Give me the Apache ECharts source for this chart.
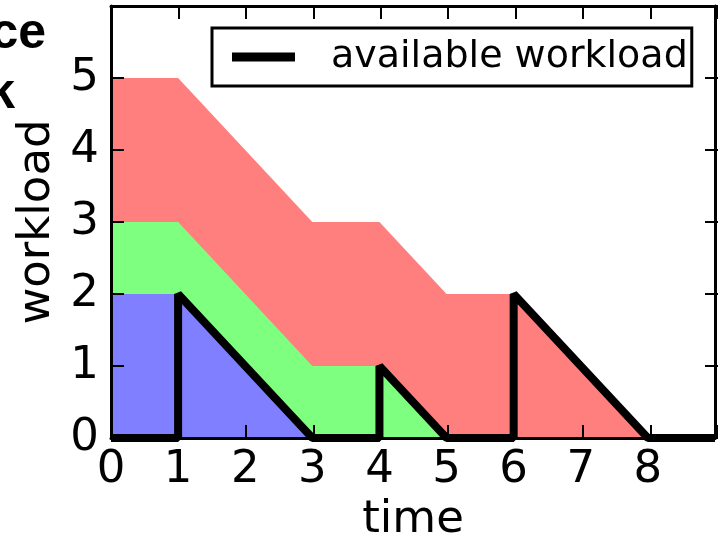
<!DOCTYPE html>
<html>
<head>
<meta charset="utf-8">
<script src="https://cdn.jsdelivr.net/npm/echarts@6/dist/echarts.min.js"></script>
<style>
  html, body { margin: 0; padding: 0; background: #fff; }
  #chart { width: 718px; height: 548px; }
</style>
</head>
<body>
<div id="chart"></div>
<script>
// ---- data ----
const xTicks = [0, 1, 2, 3, 4, 5, 6, 7, 8];
const yTicks = [0, 1, 2, 3, 4, 5];

const blueX = [0, 1, 3];
const blueY = [2, 2, 0];

const greenX = [0, 1, 3, 4, 5];
const greenY = [3, 3, 1, 1, 0];

const redX = [0, 1, 3, 4, 5, 6, 8];
const redY = [5, 5, 3, 3, 2, 2, 0];

const availX = [0, 1, 1, 3, 4, 4, 5, 6, 6, 8, 9];
const availY = [0, 0, 2, 0, 0, 1, 0, 0, 2, 0, 0];

const titleLines = ['ce', 'k'];
const legendName = 'available workload';

function pairs(xs, ys) { return xs.map((x, i) => [x, ys[i]]); }

const FONT = '"DejaVu Sans", sans-serif';
const chart = echarts.init(document.getElementById('chart'), null, { renderer: 'canvas' });

function tickStyle() { return { show: true, inside: true, length: 13, lineStyle: { color: '#000', width: 2 } }; }
function axisLineStyle() { return { show: true, onZero: false, lineStyle: { color: '#000', width: 3 } }; }
const gridBox = { left: 111, right: -4, top: 6, bottom: 110, containLabel: false };

const option = {
  backgroundColor: '#fff',
  animation: false,
  grid: [Object.assign({}, gridBox), Object.assign({}, gridBox)],
  xAxis: [
    {
      gridIndex: 0, type: 'value', min: 0, max: 9, interval: 1, position: 'bottom', z: 10,
      name: 'time', nameLocation: 'middle', nameGap: 59,
      nameTextStyle: { fontFamily: FONT, fontSize: 45, color: '#000' },
      axisLine: axisLineStyle(), axisTick: { show: false }, splitLine: { show: false },
      axisLabel: {
        margin: 10, fontFamily: FONT, fontSize: 45, color: '#000',
        formatter: v => (xTicks.indexOf(v) >= 0 ? String(v) : '')
      }
    },
    {
      gridIndex: 0, type: 'value', min: 0, max: 9, interval: 1, position: 'top', z: 10,
      axisLine: axisLineStyle(), axisTick: { show: false }, splitLine: { show: false },
      axisLabel: { show: false }
    },
    // tick-only axes on an identical overlay grid
    {
      gridIndex: 1, type: 'value', min: 0, max: 9, interval: 1, position: 'bottom', z: 11,
      axisLine: { show: false, onZero: false }, axisTick: tickStyle(), splitLine: { show: false },
      axisLabel: { show: false }
    },
    {
      gridIndex: 1, type: 'value', min: 0, max: 9, interval: 1, position: 'top', z: 11,
      axisLine: { show: false, onZero: false }, axisTick: tickStyle(), splitLine: { show: false },
      axisLabel: { show: false }
    }
  ],
  yAxis: [
    {
      gridIndex: 0, type: 'value', min: 0, max: 6, interval: 1, position: 'left', z: 10,
      name: 'workload', nameLocation: 'middle', nameGap: 50,
      nameTextStyle: { fontFamily: FONT, fontSize: 45, color: '#000' },
      axisLine: axisLineStyle(), axisTick: { show: false }, splitLine: { show: false },
      axisLabel: {
        margin: 12, fontFamily: FONT, fontSize: 45, color: '#000',
        formatter: v => (yTicks.indexOf(v) >= 0 ? String(v) : '')
      }
    },
    {
      gridIndex: 0, type: 'value', min: 0, max: 6, interval: 1, position: 'right', z: 10,
      axisLine: axisLineStyle(), axisTick: { show: false }, splitLine: { show: false },
      axisLabel: { show: false }
    },
    {
      gridIndex: 1, type: 'value', min: 0, max: 6, interval: 1, position: 'left', z: 11,
      axisLine: { show: false, onZero: false }, axisTick: tickStyle(), splitLine: { show: false },
      axisLabel: { show: false }
    },
    {
      gridIndex: 1, type: 'value', min: 0, max: 6, interval: 1, position: 'right', z: 11,
      axisLine: { show: false, onZero: false }, axisTick: tickStyle(), splitLine: { show: false },
      axisLabel: { show: false }
    }
  ],
  legend: {
    data: [{ name: legendName, itemStyle: { color: '#000' } }],
    left: 212, top: 28, z: 20,
    orient: 'horizontal',
    icon: 'rect', itemWidth: 63, itemHeight: 9,
    borderColor: '#000', borderWidth: 3, borderRadius: 0,
    backgroundColor: '#fff',
    padding: [10, 4, 10, 20],
    selectedMode: false,
    formatter: n => '{a|' + n + '}',
    textStyle: {
      fontFamily: FONT, fontSize: 38, color: '#000',
      rich: { a: { fontFamily: FONT, fontSize: 38, color: '#000', padding: [0, 0, 0, 31] } }
    }
  },
  graphic: [
    { type: 'text', x: 46, y: 34, style: { text: titleLines[0], font: 'bold 50px "Liberation Sans", Arial, sans-serif', fill: '#000', textAlign: 'right', textVerticalAlign: 'middle' } },
    { type: 'text', x: 15, y: 94, style: { text: titleLines[1], font: 'bold 50px "Liberation Sans", Arial, sans-serif', fill: '#000', textAlign: 'right', textVerticalAlign: 'middle' } }
  ],
  series: [
    {
      type: 'line', name: 'red', xAxisIndex: 0, yAxisIndex: 0, data: pairs(redX, redY), showSymbol: false, symbol: 'none',
      lineStyle: { width: 0 }, areaStyle: { color: '#ff7f7f', opacity: 1 }, z: 1, silent: true
    },
    {
      type: 'line', name: 'green', xAxisIndex: 0, yAxisIndex: 0, data: pairs(greenX, greenY), showSymbol: false, symbol: 'none',
      lineStyle: { width: 0 }, areaStyle: { color: '#7fff7f', opacity: 1 }, z: 2, silent: true
    },
    {
      type: 'line', name: 'blue', xAxisIndex: 0, yAxisIndex: 0, data: pairs(blueX, blueY), showSymbol: false, symbol: 'none',
      lineStyle: { width: 0 }, areaStyle: { color: '#7f7fff', opacity: 1 }, z: 3, silent: true
    },
    {
      type: 'line', name: legendName, xAxisIndex: 0, yAxisIndex: 0, data: pairs(availX, availY), showSymbol: false, symbol: 'none',
      color: '#000',
      lineStyle: { color: '#000', width: 8 }, z: 4, silent: true
    }
  ]
};
chart.setOption(option);
</script>
</body>
</html>
